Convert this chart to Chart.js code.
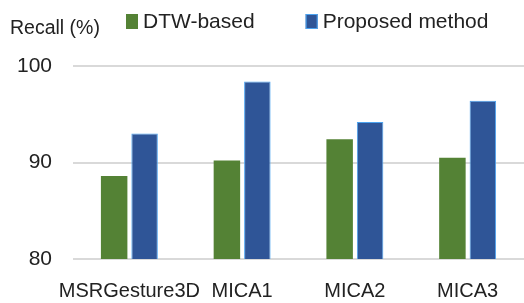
<!DOCTYPE html>
<html>
<head>
<meta charset="utf-8">
<script src="https://cdn.jsdelivr.net/npm/chart.js@4"></script>
<style>
  html, body { margin: 0; padding: 0; background: #fff; }
  #chart { display: block; }
</style>
</head>
<body>
<canvas id="chart" width="524" height="303"></canvas>
<script>
// chart data
const categories = ['MSRGesture3D', 'MICA1', 'MICA2', 'MICA3'];
const dtwBased = [88.6, 90.2, 92.4, 90.5];
const proposedMethod = [93.0, 98.4, 94.2, 96.4];
const seriesNames = ['DTW-based', 'Proposed method'];
const yTicks = [80, 90, 100];
const yLabel = 'Recall (%)';

const FONT = '"Liberation Sans", Arial, sans-serif';
const TEXT = '#222';

// axis label + legend row at the top, drawn from the datasets
const topRowPlugin = {
  id: 'topRow',
  afterDraw(chart) {
    const ctx = chart.ctx;
    ctx.save();
    ctx.textBaseline = 'middle';
    ctx.fillStyle = TEXT;
    ctx.font = '19.5px ' + FONT;
    ctx.fillText(yLabel, 10, 29);

    ctx.font = '21px ' + FONT;
    let x = 126;
    chart.data.datasets.forEach(ds => {
      ctx.fillStyle = ds.backgroundColor;
      ctx.fillRect(x, 14, 12, 15);
      if (ds.borderWidth) {
        ctx.strokeStyle = ds.borderColor;
        ctx.lineWidth = 1;
        ctx.strokeRect(x + 0.5, 14.5, 11, 14);
      }
      ctx.fillStyle = TEXT;
      ctx.fillText(ds.label, x + 17, 22);
      x += 17 + ctx.measureText(ds.label).width + 51;
    });
    ctx.restore();
  }
};

const ctx = document.getElementById('chart').getContext('2d');
const myChart = new Chart(ctx, {
  type: 'bar',
  data: {
    labels: categories,
    datasets: [
      {
        label: seriesNames[0],
        data: dtwBased,
        backgroundColor: '#548235',
        borderWidth: 0,
        categoryPercentage: 0.54,
        barPercentage: 0.87,
      },
      {
        label: seriesNames[1],
        data: proposedMethod,
        backgroundColor: '#2F5597',
        borderColor: '#4BA3F0',
        borderWidth: 1,
        categoryPercentage: 0.54,
        barPercentage: 0.87,
      },
    ],
  },
  options: {
    responsive: false,
    animation: false,
    layout: { padding: { left: 17, right: 0, top: 66, bottom: 0 } },
    plugins: {
      legend: { display: false },
      tooltip: { enabled: false },
    },
    scales: {
      x: {
        afterFit(scale) { scale.height = 44; },
        grid: { display: false, drawTicks: false },
        border: { display: false },
        ticks: {
          color: TEXT,
          padding: 20,
          font: { family: FONT, size: 20 },
          maxRotation: 0,
          autoSkip: false,
        },
      },
      y: {
        min: 80,
        max: 100,
        afterBuildTicks(scale) {
          scale.ticks = yTicks.map(v => ({ value: v }));
        },
        afterFit(scale) { scale.width = 56; },
        grid: { color: '#d9d9d9', lineWidth: 2, drawTicks: false },
        border: { display: false },
        ticks: {
          color: TEXT,
          padding: 21,
          font: { family: FONT, size: 21 },
        },
      },
    },
  },
  plugins: [topRowPlugin],
});
</script>
</body>
</html>
